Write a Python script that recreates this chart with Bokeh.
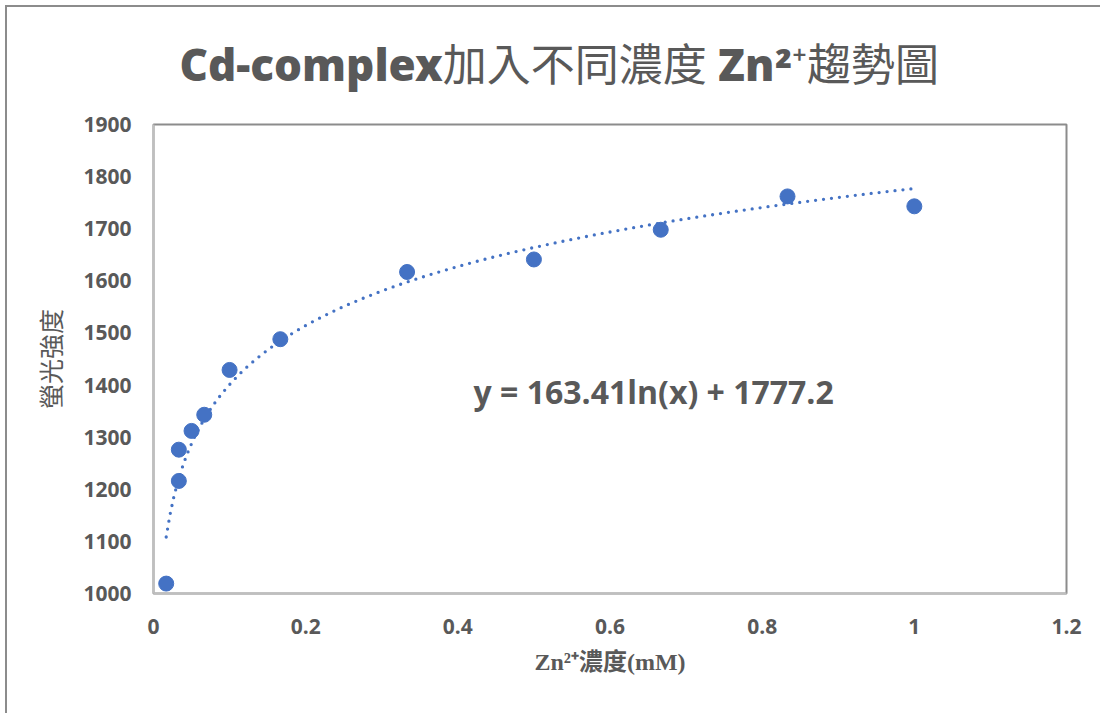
import numpy as np
from bokeh.plotting import figure
from bokeh.models import Range1d, FixedTicker, Label, ColumnDataSource, Title
from bokeh.embed import file_html
from bokeh.resources import INLINE

# ---- data ----
zn_mM = [0.0167, 0.0333, 0.0333, 0.05, 0.0667, 0.1, 0.1667, 0.3333, 0.5, 0.6667, 0.8333, 1.0]
intensity = [1019, 1216, 1276, 1312, 1343, 1429, 1488, 1617, 1641, 1698, 1762, 1743]

# logarithmic trendline shown on the chart: y = a ln(x) + b
trend_a = 163.41
trend_b = 1777.2
trend_label = "y = 163.41ln(x) + 1777.2"

x_ticks = [0, 0.2, 0.4, 0.6, 0.8, 1.0, 1.2]
x_tick_labels = ["0", "0.2", "0.4", "0.6", "0.8", "1", "1.2"]
y_ticks = [1000, 1100, 1200, 1300, 1400, 1500, 1600, 1700, 1800, 1900]

title_text = "Cd-complex加入不同濃度 Zn²⁺趨勢圖"
x_label = "Zn²⁺濃度(mM)"
y_label = "螢光強度"

TEXT = "#595959"
BLUE = "#4472C4"
LATIN = "Open Sans"
CJK = "Noto Sans CJK TC"
# heavy latin face first (so latin glyphs look bold), CJK falls back to regular weight
TITLE_FONT = "Open Sans ExtraBold, Open Sans Extrabold, Noto Sans CJK TC"

W, H = 1100, 713
FL, FR, FT, FB = 153, 1066, 123, 593  # frame edges on the canvas

p = figure(width=W, height=H, output_backend="svg", toolbar_location=None,
           x_range=Range1d(0, 1.2), y_range=Range1d(1000, 1900),
           min_border_left=FL, min_border_right=W - FR,
           min_border_top=FT, min_border_bottom=H - FB)
p.title = Title(text=title_text, align="left", offset=26, standoff=62,
                text_font=TITLE_FONT, text_font_style="normal",
                text_font_size="44px", text_color=TEXT)
p.background_fill_color = "white"
p.border_fill_color = None
p.styles = {
    "background": ("linear-gradient(#8c8c8c,#8c8c8c) 5px 5px / 2px 100% no-repeat, "
                   "linear-gradient(#8c8c8c,#8c8c8c) 5px 5px / 100% 2px no-repeat, white"),
}
p.outline_line_color = "#8c8c8c"
p.outline_line_width = 2
p.xgrid.visible = False
p.ygrid.visible = False

for ax in (p.xaxis[0], p.yaxis[0]):
    ax.axis_line_color = "#bfbfbf"
    ax.axis_line_width = 2
    ax.major_tick_line_color = None
    ax.minor_tick_line_color = None
    ax.major_tick_out = 0
    ax.major_tick_in = 0
    ax.major_label_text_font = f"{LATIN}, {CJK}"
    ax.major_label_text_font_style = "bold"
    ax.major_label_text_font_size = "21px"
    ax.major_label_text_color = TEXT
    ax.axis_label_text_color = TEXT
    ax.axis_label_text_font_style = "normal"

p.xaxis.ticker = FixedTicker(ticks=x_ticks)
p.xaxis.major_label_overrides = {t: l for t, l in zip(x_ticks, x_tick_labels)}
p.xaxis.major_label_standoff = 25
p.xaxis.axis_label = x_label
p.xaxis.axis_label_text_font = f"Liberation Serif, {CJK}"
p.xaxis.axis_label_text_font_style = "bold"
p.xaxis.axis_label_text_font_size = "24px"
p.xaxis.axis_label_standoff = 12

p.yaxis.ticker = FixedTicker(ticks=y_ticks)
p.yaxis.major_label_standoff = 22
p.yaxis.axis_label = y_label
p.yaxis.axis_label_text_font = CJK
p.yaxis.axis_label_text_font_size = "25px"
p.yaxis.axis_label_standoff = 12

# trendline
tx = np.linspace(min(zn_mM), max(zn_mM), 200)
ty = trend_a * np.log(tx) + trend_b
p.line(tx, ty, line_color=BLUE, line_width=3.3, line_dash="0 8", line_cap="round")

# data points
src = ColumnDataSource(dict(x=zn_mM, y=intensity))
p.scatter("x", "y", source=src, size=15, fill_color=BLUE, line_color=BLUE)

# equation label
p.add_layout(Label(x=473 - FL, y=FB - 391, x_units="screen", y_units="screen",
                   text=trend_label, text_font=LATIN, text_font_style="bold",
                   text_font_size="32px", text_color=TEXT, text_baseline="alphabetic"))

open("out.html", "w").write(file_html(p, INLINE))
